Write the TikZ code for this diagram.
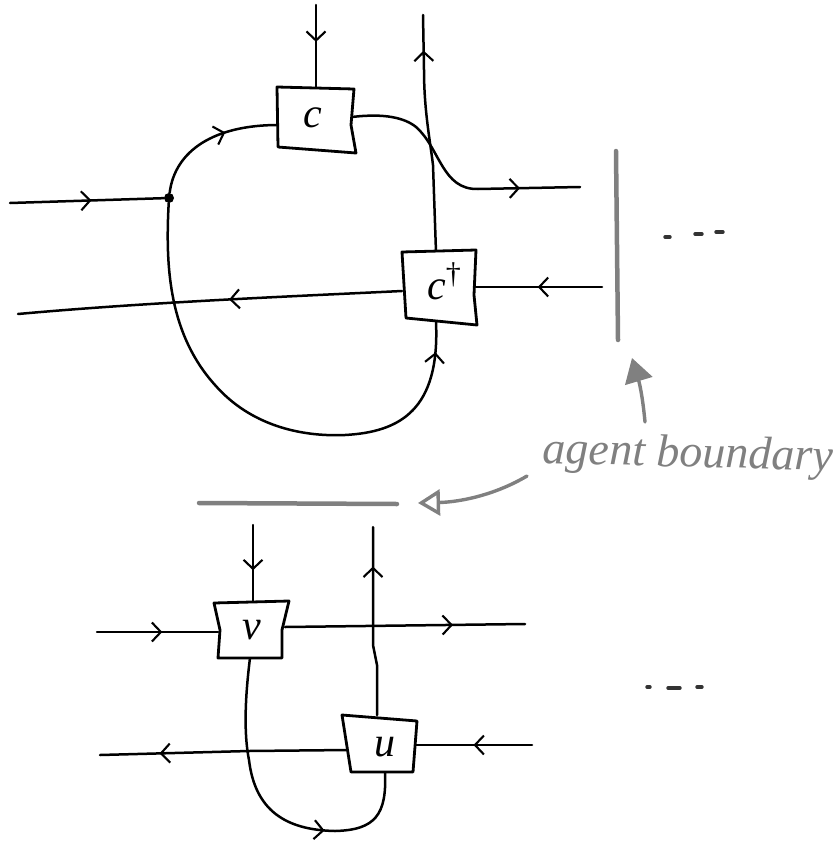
\documentclass[tikz,border=0pt]{standalone}
\usepackage{fontspec}
\setmainfont{Liberation Serif}
\usetikzlibrary{arrows.meta,decorations.markings}
\definecolor{bargray}{gray}{0.5}
\tikzset{
  wire/.style={line width=2.5pt,black,line cap=round,line join=round},
  boxline/.style={line width=2.8pt,black,line join=round,fill=white},
  arr/.style={postaction={decorate,decoration={markings,mark=at position #1 with {\arrow[line width=2.1pt]{Straight Barb[length=9pt,width=19pt]}}}}},
  lab/.style={inner sep=0pt,font=\fontsize{42}{42}\selectfont\itshape},
  bar/.style={line width=4.5pt,bargray,line cap=round},
  note/.style={line width=3.4pt,bargray,line cap=round},
  speck/.style={line width=3.4pt,black!80,line cap=round},
}
\begin{document}
\begin{tikzpicture}[x=1pt,y=-1pt]
\useasboundingbox (0,0) rectangle (834,843);
% free ends and junctions, upper part
\coordinate (topin) at (316,5);
\coordinate (topinb) at (316,87);
\coordinate (leftin) at (10,203);
\coordinate (cL) at (278,125);
\coordinate (cR) at (352,117);
\coordinate (outR) at (580,187);
\coordinate (dT) at (436,252);
\coordinate (dB) at (436,322);
\coordinate (dR) at (476,287);
\coordinate (dL) at (402,291);
\coordinate (upout) at (423,15);
\coordinate (inR) at (602,287);
\coordinate (outL) at (18,314);
% lower part
\coordinate (vT) at (253,603);
\coordinate (vin) at (253,525);
\coordinate (vL) at (218,632);
\coordinate (vR) at (285,627);
\coordinate (vB) at (250,658);
\coordinate (lin) at (97,632);
\coordinate (rout) at (525,624);
\coordinate (uT) at (377,715);
\coordinate (uout) at (373,527);
\coordinate (uR) at (415,745);
\coordinate (uL) at (348,750);
\coordinate (uB) at (385,772);
\coordinate (rin) at (532,745);
\coordinate (lout) at (100,755);
% wires
\draw[wire,arr=0.45] (topin) -- (topinb);
\node[circle,fill=black,inner sep=0pt,minimum size=10pt] (dot) at (169,198) {};
\draw[wire,arr=0.53] (leftin) -- (dot);
\draw[wire,arr=0.62] (dot) .. controls (175,150) and (215,125) .. (cL);
\draw[wire,arr=0.77] (cR) .. controls (385,113) and (405,118) .. (416,127) .. controls (440,148) and (442,190) .. (478,189) -- (outR);
\draw[wire,arr=0.85] (dT) -- (433,165) .. controls (430,140) and (424,110) .. (424,70) -- (upout);
\draw[wire,arr=0.51] (inR) -- (dR);
\draw[wire,arr=0.45] (dL) .. controls (300,296) and (150,302) .. (outL);
\draw[wire,arr=0.94] (dot) .. controls (165,270) and (170,335) .. (215,385) .. controls (250,425) and (300,437) .. (345,435) .. controls (400,432) and (440,410) .. (dB);
\draw[wire,arr=0.58] (vin) -- (vT);
\draw[wire,arr=0.54] (lin) -- (vL);
\draw[wire,arr=0.7] (vR) -- (rout);
\draw[wire,arr=0.79] (uT) -- (377,665) -- (373,645) -- (uout);
\draw[wire,arr=0.5] (rin) -- (uR);
\draw[wire,arr=0.76] (uL) -- (249,751) -- (lout);
\draw[wire,arr=0.68] (vB) .. controls (246,690) and (243,730) .. (249,760) .. controls (255,810) and (285,830) .. (335,831) .. controls (375,830) and (387,815) .. (uB);
% boxes
\draw[boxline] (277,87) -- (354,89) -- (351,125) -- (356,153) -- (278,147) -- cycle;
\node[lab] (c) at (313,118) {c};
\draw[boxline] (402,252) -- (476,250) -- (474,295) -- (477,325) -- (406,318) -- cycle;
\node[lab,anchor=base] (cd) at (444,299) {c\raisebox{16pt}{\fontsize{30}{30}\selectfont\upshape †}};
\draw[boxline] (214,603) -- (289,601) -- (282,630) -- (282,658) -- (218,658) -- (220,630) -- cycle;
\node[lab] (v) at (252,630) {v};
\draw[boxline] (342,715) -- (417,721) -- (413,772) -- (351,772) -- cycle;
\node[lab] (u) at (385,747) {u};
% agent boundary
\draw[bar] (616,151) -- (618,340);
\draw[bar] (199,503) -- (397,504);
\node[inner sep=0pt,text=bargray,rotate=-1.5,font=\fontsize{46}{46}\selectfont\itshape] (ab) at (688,456) {agent boundary};
\coordinate (a1s) at (645,422);
\coordinate (a1e) at (632,358);
\coordinate (a2s) at (527,476);
\coordinate (a2e) at (418,503);
\draw[note,-{Triangle[length=24pt,width=28pt]}] (a1s) .. controls (643,400) and (640,385) .. (a1e);
\draw[note,-{Triangle[open,length=22pt,width=26pt]}] (a2s) .. controls (495,495) and (460,502) .. (a2e);
% ellipses
\draw[speck] (665,237) -- (670,237);
\draw[speck] (695,234) -- (702,234);
\draw[speck] (716,232) -- (723,232);
\draw[speck] (647,687) -- (650,687);
\draw[speck] (668,688) -- (680,688);
\draw[speck] (697,687) -- (702,687);
\end{tikzpicture}
\end{document}
